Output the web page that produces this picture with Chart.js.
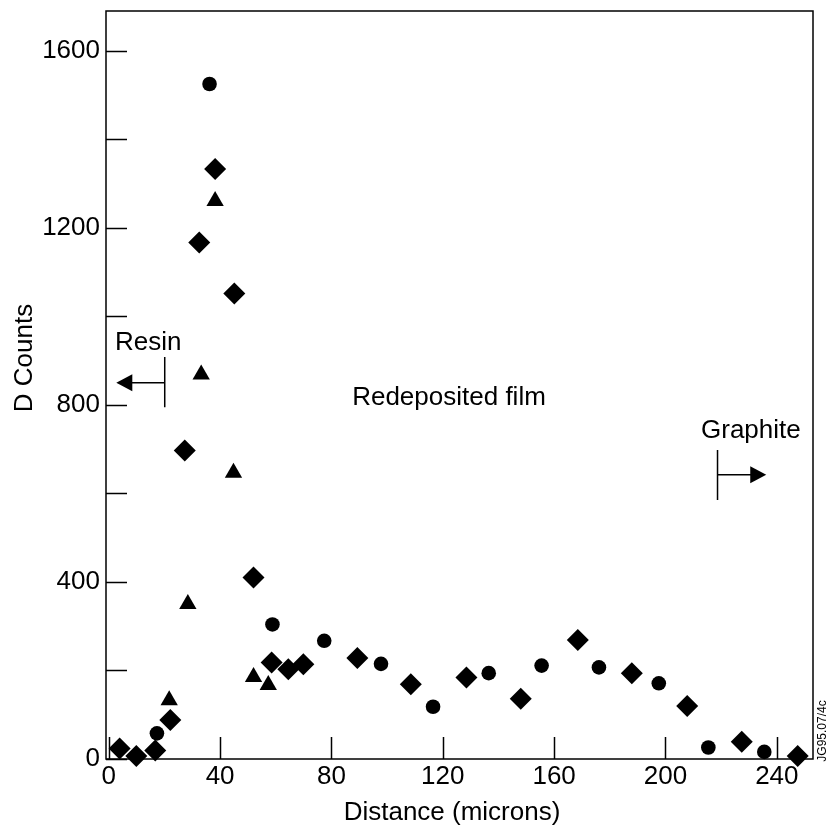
<!DOCTYPE html>
<html>
<head>
<meta charset="utf-8">
<script src="https://cdn.jsdelivr.net/npm/chart.js@4/dist/chart.umd.min.js"></script>
<style>
  html, body { margin: 0; padding: 0; background: #fff; }
  #c { display: block; }
</style>
</head>
<body>
<canvas id="c" width="834" height="832"></canvas>
<script>
// ---- data ----
const circleX   = [36.2, 17.3, 58.8, 77.4, 97.8, 116.5, 136.5, 155.5, 176.1, 197.6, 215.4, 235.5];
const circleY   = [1525, 58, 304, 267, 215, 118, 194, 211, 207, 171, 26, 16];

const diamondX  = [3.9, 9.9, 16.7, 22.1, 27.3, 32.5, 38.2, 45.1, 52.0, 58.5, 64.5, 69.9, 89.3, 108.5, 128.5, 148.0, 168.5, 187.9, 207.8, 227.4, 247.5];
const diamondY  = [24, 7, 19, 88, 697, 1167, 1333, 1052, 410, 218, 203, 214, 228, 169, 184, 136, 269, 194, 120, 39, 7];

const triangleX = [21.7, 28.4, 33.2, 38.2, 44.8, 52.0, 57.3];
const triangleY = [133, 350, 869, 1261, 647, 185, 167];

const xTicks = [0, 40, 80, 120, 160, 200, 240];
const yTicks = [0, 200, 400, 600, 800, 1000, 1200, 1400, 1600];
const yLabelled = [0, 400, 800, 1200, 1600];

const xTitle = 'Distance (microns)';
const yTitle = 'D Counts';
const regionLabels = ['Resin', 'Redeposited film', 'Graphite'];
const figureId = 'JG95.07/4c';

const pts = (xs, ys) => xs.map((x, i) => ({ x: x, y: ys[i] }));

const FONT = '"Liberation Sans", Arial, Helvetica, sans-serif';

const decorPlugin = {
  id: 'decor',
  afterDraw(chart) {
    const ctx = chart.ctx;
    const xs = chart.scales.x, ys = chart.scales.y;
    const a = chart.chartArea;
    ctx.save();
    ctx.strokeStyle = '#000';
    ctx.fillStyle = '#000';
    ctx.lineWidth = 1.5;
    // frame
    ctx.strokeRect(a.left, a.top, a.right - a.left, a.bottom - a.top);
    // inward ticks
    ctx.beginPath();
    yTicks.forEach(v => {
      const py = Math.round(ys.getPixelForValue(v)) + 0.5;
      ctx.moveTo(a.left, py); ctx.lineTo(a.left + 21, py);
    });
    xTicks.forEach(v => {
      const px = Math.round(xs.getPixelForValue(v)) + 0.5;
      ctx.moveTo(px, a.bottom); ctx.lineTo(px, a.bottom - 22);
    });
    ctx.stroke();

    // region arrows (positions in data units)
    const arrow = (xBar, yTop, yBot, yMid, xTip) => {
      const bx = xs.getPixelForValue(xBar);
      const tx = xs.getPixelForValue(xTip);
      const my = ys.getPixelForValue(yMid);
      ctx.lineWidth = 1.5;
      ctx.beginPath();
      ctx.moveTo(bx, ys.getPixelForValue(yTop));
      ctx.lineTo(bx, ys.getPixelForValue(yBot));
      const dir = Math.sign(tx - bx);
      ctx.moveTo(bx, my);
      ctx.lineTo(tx - dir * 14, my);
      ctx.stroke();
      ctx.beginPath();
      ctx.moveTo(tx, my);
      ctx.lineTo(tx - dir * 16, my - 8.5);
      ctx.lineTo(tx - dir * 16, my + 8.5);
      ctx.closePath();
      ctx.fill();
    };
    arrow(20.1, 908, 795, 850, 2.7);
    arrow(218.7, 698, 585, 642, 236.2);

    // annotation text
    ctx.font = '26px ' + FONT;
    ctx.textBaseline = 'alphabetic';
    ctx.textAlign = 'left';
    ctx.fillText(regionLabels[0], 115, 350);
    ctx.textAlign = 'center';
    ctx.fillText(regionLabels[1], 449, 405);
    ctx.textAlign = 'left';
    ctx.fillText(regionLabels[2], 701, 438);

    // axis titles
    ctx.textAlign = 'center';
    ctx.fillText(xTitle, 452, 820);
    ctx.save();
    ctx.translate(32, 358);
    ctx.rotate(-Math.PI / 2);
    ctx.fillText(yTitle, 0, 0);
    ctx.restore();

    // figure id
    ctx.save();
    ctx.font = '12px ' + FONT;
    ctx.translate(826, 731);
    ctx.rotate(-Math.PI / 2);
    ctx.textAlign = 'center';
    ctx.fillText(figureId, 0, 0);
    ctx.restore();

    ctx.restore();
  }
};

new Chart(document.getElementById('c'), {
  type: 'scatter',
  data: {
    datasets: [
      { label: 'circles', data: pts(circleX, circleY), pointStyle: 'circle', pointRadius: 7.3,
        backgroundColor: '#000', borderColor: '#000', borderWidth: 0, clip: false },
      { label: 'diamonds', data: pts(diamondX, diamondY), pointStyle: 'rectRot', pointRadius: 11,
        backgroundColor: '#000', borderColor: '#000', borderWidth: 0, clip: false },
      { label: 'triangles', data: pts(triangleX, triangleY), pointStyle: 'triangle', pointRadius: 10,
        backgroundColor: '#000', borderColor: '#000', borderWidth: 0, clip: false }
    ]
  },
  options: {
    responsive: false,
    animation: false,
    devicePixelRatio: 1,
    layout: { padding: { left: 0, right: 21, top: 8, bottom: 0 } },
    plugins: { legend: { display: false }, tooltip: { enabled: false }, title: { display: false } },
    scales: {
      x: {
        type: 'linear', min: -1, max: 253,
        grid: { display: false, drawTicks: false },
        border: { display: false },
        afterBuildTicks: s => { s.ticks = xTicks.map(v => ({ value: v })); },
        afterFit: s => { s.height = 73; s.paddingLeft = 0; s.paddingRight = 0; },
        ticks: { color: '#000', padding: 2, maxRotation: 0, autoSkip: false,
                 font: { family: FONT, size: 26 }, callback: v => String(v) }
      },
      y: {
        type: 'linear', min: 0, max: 1690,
        grid: { display: false, drawTicks: false },
        border: { display: false },
        afterBuildTicks: s => { s.ticks = yTicks.map(v => ({ value: v })); },
        afterFit: s => { s.width = 106; s.paddingTop = 0; s.paddingBottom = 0; },
        ticks: { color: '#000', padding: 6, autoSkip: false,
                 font: { family: FONT, size: 26 },
                 callback: v => yLabelled.includes(v) ? String(v) : '' }
      }
    }
  },
  plugins: [decorPlugin]
});
</script>
</body>
</html>
